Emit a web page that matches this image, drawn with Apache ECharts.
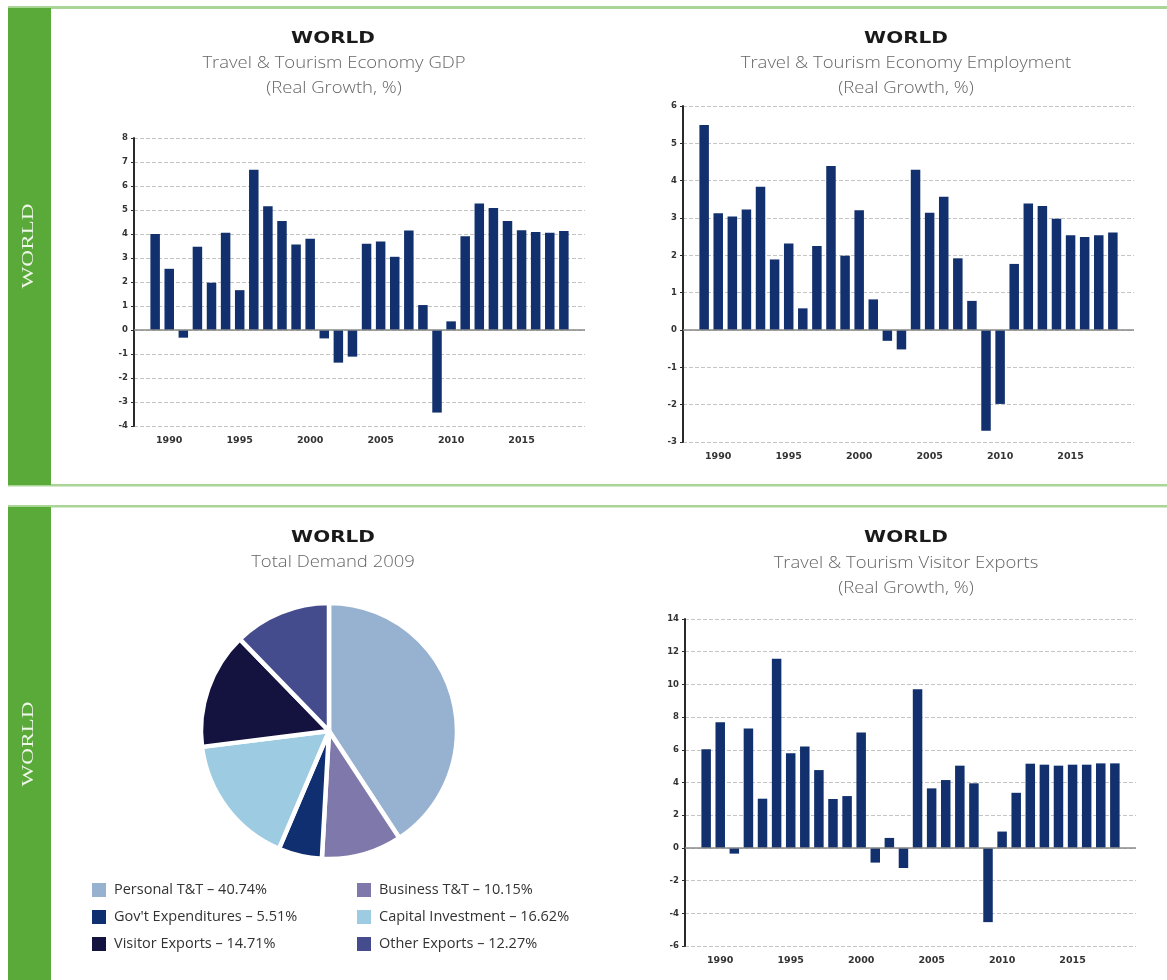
<!DOCTYPE html>
<html>
<head>
<meta charset="utf-8">
<script src="https://cdn.jsdelivr.net/npm/echarts@6/dist/echarts.min.js"></script>
<style>
  html, body { margin: 0; padding: 0; background: #fff; }
  #chart { width: 1167px; height: 980px; }
</style>
</head>
<body>
<div id="chart"></div>
<script>
// years on the x axis (1989 - 2018)
var years = [1989, 1990, 1991, 1992, 1993, 1994, 1995, 1996, 1997, 1998,
             1999, 2000, 2001, 2002, 2003, 2004, 2005, 2006, 2007, 2008,
             2009, 2010, 2011, 2012, 2013, 2014, 2015, 2016, 2017, 2018];

// Travel & Tourism Economy GDP, real growth %
var gdpGrowth = [4.0, 2.55, -0.32, 3.47, 1.97, 4.05, 1.66, 6.68, 5.16, 4.54,
                 3.56, 3.80, -0.35, -1.36, -1.11, 3.59, 3.69, 3.05, 4.15, 1.04,
                 -3.44, 0.36, 3.91, 5.27, 5.08, 4.54, 4.16, 4.08, 4.05, 4.12];

// Travel & Tourism Economy Employment, real growth %
var employmentGrowth = [5.49, 3.13, 3.04, 3.23, 3.84, 1.89, 2.32, 0.58, 2.25, 4.39,
                        1.99, 3.21, 0.82, -0.29, -0.52, 4.29, 3.14, 3.57, 1.92, 0.78,
                        -2.70, -1.98, 1.77, 3.39, 3.32, 2.98, 2.54, 2.49, 2.54, 2.61];

// Travel & Tourism Visitor Exports, real growth %
var visitorExportsGrowth = [6.03, 7.69, -0.35, 7.30, 3.01, 11.57, 5.79, 6.20, 4.76, 2.99,
                            3.17, 7.06, -0.90, 0.61, -1.23, 9.71, 3.64, 4.15, 5.03, 3.95,
                            -4.54, 1.00, 3.37, 5.15, 5.09, 5.03, 5.09, 5.09, 5.17, 5.17];

// Total Demand 2009
var demandNames = ['Personal T&T', 'Business T&T', "Gov't Expenditures",
                   'Capital Investment', 'Visitor Exports', 'Other Exports'];
var demandShares = [40.74, 10.15, 5.51, 16.62, 14.71, 12.27];
var demandColors = ['#97b1d1', '#7f78ab', '#0f2f70', '#9dcbe1', '#14123f', '#454c8d'];

var BAR = '#12306e';
var GREEN = '#5aaa3a';
var LIGHT_GREEN = '#a9d597';
var FONT = 'Open Sans';

var chart = echarts.init(document.getElementById('chart'));

function pairs(vals) {
  return years.map(function (y, i) { return [y, vals[i]]; });
}

function xAxisFor(idx) {
  return {
    gridIndex: idx, type: 'value',
    min: 1987.5, max: 2019.5, interval: 0.5,
    axisLine: { show: false }, axisTick: { show: false }, splitLine: { show: false },
    axisLabel: {
      margin: 10, color: '#333', fontSize: 9.5, fontWeight: 'bold', fontFamily: 'DejaVu Sans',
      formatter: function (v) { return v % 5 === 0 ? String(v) : ''; }
    }
  };
}

function yAxisFor(idx, min, max, step) {
  return {
    gridIndex: idx, type: 'value', min: min, max: max, interval: step,
    axisLine: { show: true, lineStyle: { color: '#2a2a2a', width: 2 } },
    axisTick: { show: true, length: 3, lineStyle: { color: '#2a2a2a' } },
    axisLabel: { margin: 6, color: '#333', fontSize: 8.5, fontWeight: 'bold', fontFamily: 'DejaVu Sans' },
    splitLine: { show: true, lineStyle: { color: '#c4c4c4', type: [4, 2], width: 1 } }
  };
}

function barSeries(idx, vals) {
  return {
    type: 'bar', xAxisIndex: idx, yAxisIndex: idx,
    data: pairs(vals), barWidth: 9.5,
    itemStyle: { color: BAR },
    markLine: {
      silent: true, symbol: 'none', label: { show: false },
      lineStyle: { color: '#8a8a8a', type: 'solid', width: 1.5 },
      data: [{ yAxis: 0 }]
    }
  };
}

function titleText(x, y, text, bold) {
  return {
    type: 'text', x: x, y: y, scaleX: bold ? 1.25 : 1.12,
    style: {
      text: text, textAlign: 'center', textVerticalAlign: 'middle',
      fill: bold ? '#1a1a1a' : '#666666',
      font: bold ? 'bold 16px "DejaVu Sans"' : '300 16.5px "' + FONT + '"'
    }
  };
}

function sideLabel(y) {
  return {
    type: 'text', x: 29, y: y, rotation: Math.PI / 2, scaleX: 1.45,
    style: {
      text: 'WORLD', textAlign: 'center', textVerticalAlign: 'middle',
      fill: '#eef6e8', font: '16px "Liberation Serif"'
    }
  };
}

var pieData = demandNames.map(function (n, i) {
  return { name: n, value: demandShares[i], itemStyle: { color: demandColors[i] } };
});

function legendFor(names, left) {
  return {
    data: names, orient: 'vertical', left: left, top: 881, padding: 0,
    icon: 'rect', itemWidth: 16, itemHeight: 16, itemGap: 9,
    selectedMode: false,
    textStyle: { color: '#333', fontSize: 14.5, lineHeight: 16, fontFamily: FONT, padding: [0, 0, 0, 2] },
    formatter: function (name) {
      var i = demandNames.indexOf(name);
      return name + ' \u2013 ' + demandShares[i].toFixed(2) + '%';
    }
  };
}

var option = {
  animation: false,
  backgroundColor: '#fff',
  graphic: [
    // panel frames
    { type: 'rect', shape: { x: 8, y: 6, width: 1159, height: 3 }, style: { fill: LIGHT_GREEN } },
    { type: 'rect', shape: { x: 8, y: 484, width: 1159, height: 2.5 }, style: { fill: LIGHT_GREEN } },
    { type: 'rect', shape: { x: 8, y: 505, width: 1159, height: 2.5 }, style: { fill: LIGHT_GREEN } },
    { type: 'rect', shape: { x: 8, y: 8, width: 43, height: 477 }, style: { fill: GREEN } },
    { type: 'rect', shape: { x: 8, y: 507, width: 43, height: 473 }, style: { fill: GREEN } },
    sideLabel(246),
    sideLabel(744),
    // titles
    titleText(333, 39, 'WORLD', true),
    titleText(334, 63, 'Travel & Tourism Economy GDP', false),
    titleText(334, 88, '(Real Growth, %)', false),
    titleText(906, 39, 'WORLD', true),
    titleText(906, 63, 'Travel & Tourism Economy Employment', false),
    titleText(906, 88, '(Real Growth, %)', false),
    titleText(333, 538, 'WORLD', true),
    titleText(333, 562, 'Total Demand 2009', false),
    titleText(906, 538, 'WORLD', true),
    titleText(906, 563, 'Travel & Tourism Visitor Exports', false),
    titleText(906, 588, '(Real Growth, %)', false)
  ],
  grid: [
    { left: 134, top: 138, width: 451, height: 288 },
    { left: 683, top: 106, width: 451, height: 336 },
    { left: 685, top: 619, width: 451, height: 327 }
  ],
  xAxis: [xAxisFor(0), xAxisFor(1), xAxisFor(2)],
  yAxis: [yAxisFor(0, -4, 8, 1), yAxisFor(1, -3, 6, 1), yAxisFor(2, -6, 14, 2)],
  legend: [
    legendFor([demandNames[0], demandNames[2], demandNames[4]], 90),
    legendFor([demandNames[1], demandNames[3], demandNames[5]], 355)
  ],
  series: [
    barSeries(0, gdpGrowth),
    barSeries(1, employmentGrowth),
    barSeries(2, visitorExportsGrowth),
    {
      type: 'pie', center: [329, 731], radius: 128,
      startAngle: 90, clockwise: true,
      label: { show: false }, labelLine: { show: false },
      emphasis: { disabled: true },
      itemStyle: { borderColor: '#fff', borderWidth: 4.5 },
      data: pieData
    }
  ]
};

chart.setOption(option);
</script>
</body>
</html>
